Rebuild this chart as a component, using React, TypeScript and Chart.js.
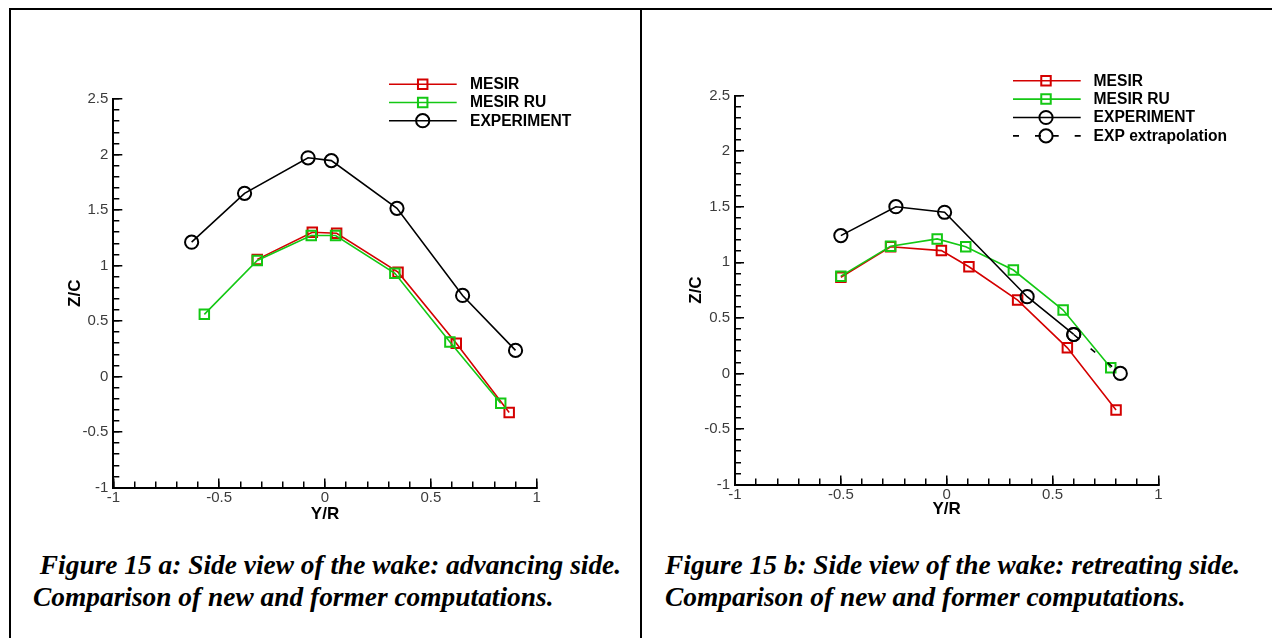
import React, { useEffect, useRef } from "react";
import { Chart, registerables } from "chart.js";

Chart.register(...registerables);

// ---- Figure 15 a: advancing side ----
const advExpY = [-0.63, -0.38, -0.08, 0.03, 0.34, 0.65, 0.9];
const advExpZ = [1.21, 1.65, 1.97, 1.945, 1.515, 0.73, 0.235];
const advMesirY = [-0.32, -0.06, 0.055, 0.345, 0.62, 0.87];
const advMesirZ = [1.055, 1.3, 1.29, 0.94, 0.3, -0.325];
const advMesirRuY = [-0.57, -0.32, -0.065, 0.05, 0.33, 0.59, 0.83];
const advMesirRuZ = [0.56, 1.045, 1.27, 1.27, 0.93, 0.31, -0.24];

// ---- Figure 15 b: retreating side ----
const retExpY = [-0.5, -0.24, -0.01, 0.38, 0.6];
const retExpZ = [1.24, 1.5, 1.45, 0.69, 0.35];
const retExtrapY = [0.6, 0.82];
const retExtrapZ = [0.35, 0.0];
const retMesirY = [-0.5, -0.265, -0.025, 0.105, 0.335, 0.57, 0.8];
const retMesirZ = [0.865, 1.14, 1.105, 0.96, 0.66, 0.23, -0.33];
const retMesirRuY = [-0.5, -0.265, -0.045, 0.09, 0.315, 0.55, 0.775];
const retMesirRuZ = [0.875, 1.145, 1.21, 1.14, 0.93, 0.57, 0.05];

// axis ranges and ticks
const yRange = [-1, 2.5];
const xRange = [-1, 1];
const majorStep = 0.5;
const minorStep = 0.1;

const captionA = [" Figure 15 a: Side view of the wake: advancing side.", "Comparison of new and former computations."];
const captionB = ["Figure 15 b: Side view of the wake: retreating side.", "Comparison of new and former computations."];

const RED = "#d40000";
const GREEN = "#14c814";
const BLACK = "#000000";

const SANS = "'Liberation Sans', Arial, Helvetica, sans-serif";

type Series = {
  label: string;
  y: number[];
  z: number[];
  color: string;
  marker: "rect" | "circle";
  dash?: number[];
  order: number;
};

type Frame = {
  left: number;
  top: number;
  width: number;
  height: number;
  pad: { left: number; right: number; top: number; bottom: number };
  yTitlePad: number;
  xTitlePad: number;
  key: { x0: number; x1: number; xm: number; xt: number; y0: number; dy: number };
};

const seriesA: Series[] = [
  { label: "MESIR", y: advMesirY, z: advMesirZ, color: RED, marker: "rect", order: 3 },
  { label: "MESIR RU", y: advMesirRuY, z: advMesirRuZ, color: GREEN, marker: "rect", order: 2 },
  { label: "EXPERIMENT", y: advExpY, z: advExpZ, color: BLACK, marker: "circle", order: 1 },
];

const seriesB: Series[] = [
  { label: "MESIR", y: retMesirY, z: retMesirZ, color: RED, marker: "rect", order: 3 },
  { label: "MESIR RU", y: retMesirRuY, z: retMesirRuZ, color: GREEN, marker: "rect", order: 2 },
  { label: "EXPERIMENT", y: retExpY, z: retExpZ, color: BLACK, marker: "circle", order: 1 },
  { label: "EXP extrapolation", y: retExtrapY, z: retExtrapZ, color: BLACK, marker: "circle", dash: [6, 16], order: 0 },
];

const frameA: Frame = {
  left: 12,
  top: 30,
  width: 620,
  height: 510,
  pad: { left: 41.3, right: 95.3, top: 69, bottom: 12.5 },
  yTitlePad: 11.5,
  xTitlePad: 3.3,
  key: { x0: 377, x1: 444.7, xm: 410.7, xt: 458, y0: 54.3, dy: 18.2 },
};

const frameB: Frame = {
  left: 644,
  top: 30,
  width: 620,
  height: 510,
  pad: { left: 31, right: 105.6, top: 65.6, bottom: 15.5 },
  yTitlePad: 11.3,
  xTitlePad: 5.3,
  key: { x0: 369, x1: 436.7, xm: 402, xt: 449.6, y0: 50.7, dy: 18.4 },
};

const markerRadius = (m: string) => (m === "rect" ? 6.7 : 6.6);

function drawMarker(ctx: CanvasRenderingContext2D, style: string, x: number, y: number, r: number) {
  ctx.beginPath();
  if (style === "rect") {
    const h = r * Math.SQRT1_2;
    ctx.rect(x - h, y - h, 2 * h, 2 * h);
  } else {
    ctx.arc(x, y, r, 0, Math.PI * 2);
  }
  ctx.stroke();
}

// Tecplot-style key: line segment with the symbol in its middle, label to the right
const seriesKey = {
  id: "seriesKey",
  afterDraw(chart: any, _args: any, opts: any) {
    const ctx: CanvasRenderingContext2D = chart.ctx;
    const { x0, x1, xm, xt, y0, dy } = opts;
    ctx.save();
    chart.data.datasets.forEach((ds: any, i: number) => {
      const y = y0 + i * dy;
      ctx.strokeStyle = ds.borderColor;
      ctx.lineWidth = ds.borderWidth;
      ctx.setLineDash(ds.borderDash || []);
      ctx.beginPath();
      ctx.moveTo(x0, y);
      ctx.lineTo(xm, y);
      ctx.moveTo(x1, y);
      ctx.lineTo(xm, y);
      ctx.stroke();
      ctx.setLineDash([]);
      ctx.lineWidth = ds.pointBorderWidth;
      drawMarker(ctx, ds.pointStyle, xm, y, ds.pointRadius);
      ctx.fillStyle = "#000";
      ctx.font = `bold 15.6px ${SANS}`;
      ctx.textAlign = "left";
      ctx.textBaseline = "middle";
      ctx.fillText(ds.label, xt, y + 0.5);
    });
    ctx.restore();
  },
};

const tickFont = { family: SANS, size: 15 };
const titleFont = { family: SANS, size: 17, weight: "bold" as const };
const TICK_COLOR = "#3c3c3c";

// tick labels without trailing zeros: 2.5, 2, 1.5, 1, 0.5, 0, -0.5, -1
const tickLabel = (v: number | string) => String(Math.round(Number(v) * 10) / 10);

function buildScales(f: Frame) {
  const majorGrid = {
    drawOnChartArea: false,
    drawTicks: true,
    tickLength: -9,
    tickWidth: 1.5,
    tickColor: BLACK,
    lineWidth: 1.5,
    color: BLACK,
  };
  const minorGrid = { ...majorGrid, tickLength: -6 };
  return {
    x: {
      type: "linear",
      position: "bottom",
      min: xRange[0],
      max: xRange[1],
      weight: 1,
      afterFit: (s: any) => {
        s.height = 40;
      },
      ticks: {
        stepSize: majorStep,
        autoSkip: false,
        maxRotation: 0,
        padding: 10.5,
        color: TICK_COLOR,
        font: tickFont,
        callback: tickLabel,
      },
      grid: majorGrid,
      border: { display: true, color: BLACK, width: 2 },
      title: { display: true, text: "Y/R", color: BLACK, font: titleFont, padding: { top: 0, bottom: f.xTitlePad } },
    },
    xMinor: {
      type: "linear",
      position: "bottom",
      min: xRange[0],
      max: xRange[1],
      weight: 0,
      afterFit: (s: any) => {
        s.height = 0;
      },
      ticks: { display: false, stepSize: minorStep, autoSkip: false },
      grid: minorGrid,
      border: { display: false },
    },
    y: {
      type: "linear",
      position: "left",
      min: yRange[0],
      max: yRange[1],
      weight: 1,
      afterFit: (s: any) => {
        s.width = 60;
      },
      ticks: { stepSize: majorStep, autoSkip: false, padding: 14, color: TICK_COLOR, font: tickFont, callback: tickLabel },
      grid: majorGrid,
      border: { display: true, color: BLACK, width: 2 },
      title: { display: true, text: "Z/C", color: BLACK, font: titleFont, padding: { top: f.yTitlePad, bottom: 0 } },
    },
    yMinor: {
      type: "linear",
      position: "left",
      min: yRange[0],
      max: yRange[1],
      weight: 0,
      afterFit: (s: any) => {
        s.width = 0;
      },
      ticks: { display: false, stepSize: minorStep, autoSkip: false },
      grid: minorGrid,
      border: { display: false },
    },
  };
}

function WakePanel({ frame, series }: { frame: Frame; series: Series[] }) {
  const ref = useRef<HTMLCanvasElement>(null);
  useEffect(() => {
    const canvas = ref.current;
    if (!canvas) return;
    const chart = new Chart(canvas, {
      type: "scatter",
      data: {
        datasets: series.map((s) => ({
          label: s.label,
          data: s.y.map((v, i) => ({ x: v, y: s.z[i] })),
          xAxisID: "x",
          yAxisID: "y",
          showLine: true,
          tension: 0,
          fill: false,
          borderColor: s.color,
          borderWidth: 1.6,
          borderDash: s.dash || [],
          pointStyle: s.marker,
          pointRadius: markerRadius(s.marker),
          pointHoverRadius: markerRadius(s.marker),
          pointBorderWidth: 2,
          pointBorderColor: s.color,
          pointBackgroundColor: "rgba(0,0,0,0)",
          order: s.order,
        })),
      },
      options: {
        responsive: false,
        animation: false,
        devicePixelRatio: 1,
        layout: { padding: frame.pad },
        scales: buildScales(frame) as any,
        plugins: {
          legend: { display: false },
          tooltip: { enabled: false },
          seriesKey: frame.key,
        } as any,
        events: [],
      },
      plugins: [seriesKey],
    });
    return () => chart.destroy();
  }, [frame, series]);
  return (
    <canvas
      ref={ref}
      width={frame.width}
      height={frame.height}
      style={{ position: "absolute", left: frame.left, top: frame.top, width: frame.width, height: frame.height }}
    />
  );
}

const captionStyle: React.CSSProperties = {
  position: "absolute",
  top: 550,
  font: "italic bold 27.4px 'Liberation Serif', 'Times New Roman', serif",
  lineHeight: "31.5px",
  whiteSpace: "pre",
  color: "#000",
};

export default function App() {
  return (
    <div
      style={{
        position: "absolute",
        left: 0,
        top: 0,
        width: 1272,
        height: 638,
        overflow: "hidden",
        background: "#fff",
      }}
    >
      {/* table rules */}
      <div style={{ position: "absolute", left: 9, top: 8, width: 1263, height: 1.5, background: "#000" }} />
      <div style={{ position: "absolute", left: 9, top: 8, width: 2, height: 630, background: "#000" }} />
      <div style={{ position: "absolute", left: 640, top: 8, width: 2, height: 630, background: "#000" }} />

      <WakePanel frame={frameA} series={seriesA} />
      <WakePanel frame={frameB} series={seriesB} />

      <div style={{ ...captionStyle, left: 33 }}>
        {captionA[0]}
        <br />
        {captionA[1]}
      </div>
      <div style={{ ...captionStyle, left: 665 }}>
        {captionB[0]}
        <br />
        {captionB[1]}
      </div>
    </div>
  );
}
